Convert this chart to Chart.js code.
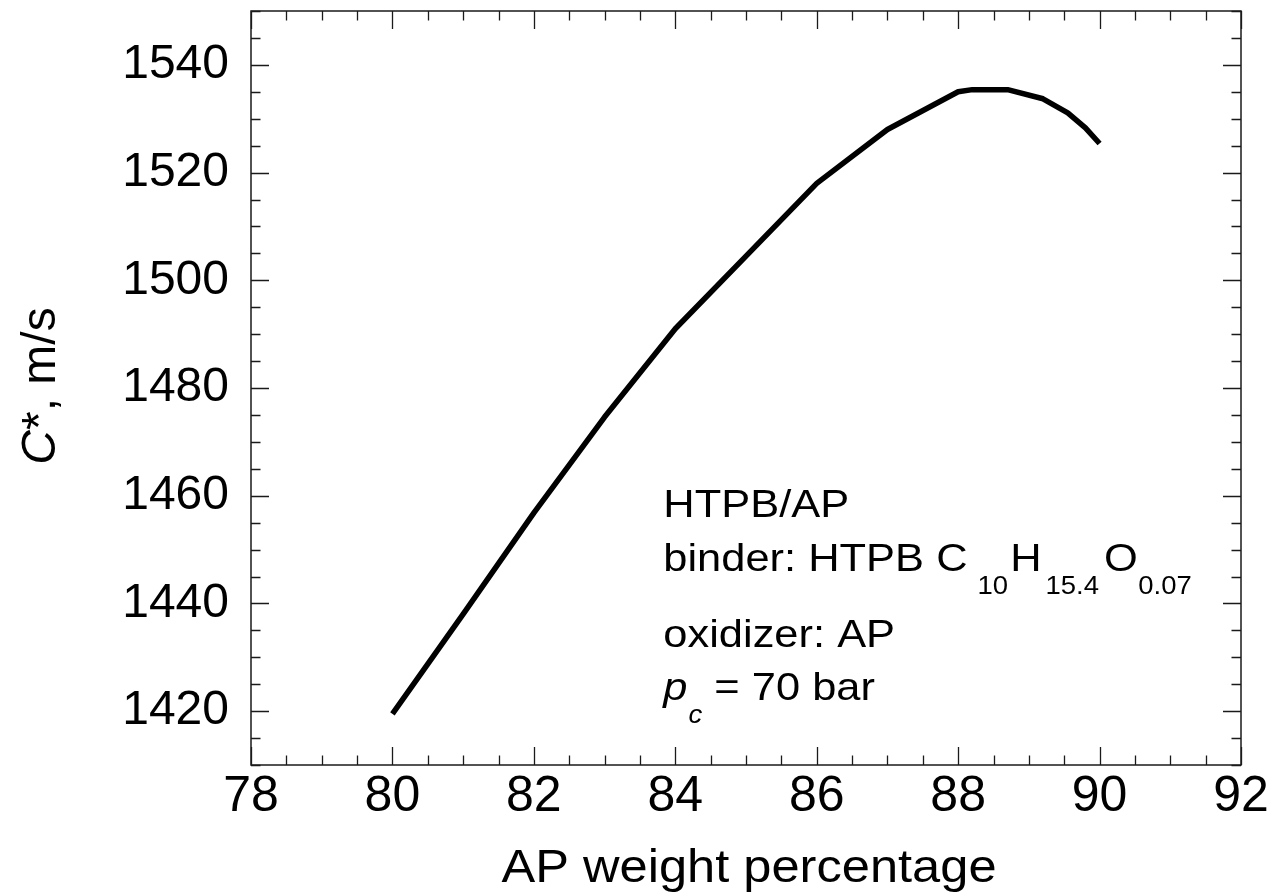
<!DOCTYPE html>
<html>
<head>
<meta charset="utf-8">
<script src="https://cdn.jsdelivr.net/npm/chart.js@4.4.0/dist/chart.umd.min.js"></script>
<style>
html, body { margin: 0; padding: 0; background: #fff; }
</style>
</head>
<body>
<canvas id="grafica" width="1273" height="896"></canvas>
<script>
// datos
const apPorcentaje = [80, 81, 82, 83, 84, 85, 86, 87, 88, 88.2, 88.7, 89.2, 89.55, 89.8, 90];
const cEstrella = [1419.5, 1438.0, 1456.8, 1474.6, 1491.0, 1504.5, 1518.0, 1528.0, 1535.0, 1535.4, 1535.4, 1533.7, 1531.1, 1528.3, 1525.4];
const ticksX = [78, 80, 82, 84, 86, 88, 90, 92];
const ticksY = [1420, 1440, 1460, 1480, 1500, 1520, 1540];

const FUENTE = '"Liberation Sans", Arial, sans-serif';
const ESTIRAR = 1.1; // el texto original esta algo ensanchado

function dibujarRenglon(ctx, x0, base, partes, estirar) {
    ctx.save();
    ctx.translate(x0, base);
    ctx.scale(estirar || 1, 1);
    let cx = 0;
    partes.forEach(p => {
        ctx.font = p.font;
        cx += p.gap || 0;
        ctx.fillText(p.t, cx, p.dy || 0);
        cx += ctx.measureText(p.t).width;
    });
    ctx.restore();
}

const marcoYTextos = {
    id: 'marcoYTextos',
    afterDraw(chart) {
        const { ctx, chartArea: a, scales: { x, y } } = chart;
        ctx.save();
        ctx.strokeStyle = '#1a1a1a';
        ctx.lineWidth = 1.5;
        ctx.strokeRect(a.left, a.top, a.right - a.left, a.bottom - a.top);

        // marcas hacia dentro en los cuatro lados
        ctx.lineWidth = 1.3;
        ctx.beginPath();
        x.ticks.forEach(t => {
            const px = Math.round(x.getPixelForValue(t.value)) + 0.5;
            const largo = ticksX.includes(t.value) ? 18 : 9.5;
            ctx.moveTo(px, a.bottom); ctx.lineTo(px, a.bottom - largo);
            ctx.moveTo(px, a.top); ctx.lineTo(px, a.top + largo);
        });
        y.ticks.forEach(t => {
            const py = Math.round(y.getPixelForValue(t.value)) + 0.5;
            const largo = ticksY.includes(t.value) ? 18 : 9.5;
            ctx.moveTo(a.left, py); ctx.lineTo(a.left + largo, py);
            ctx.moveTo(a.right, py); ctx.lineTo(a.right - largo, py);
        });
        ctx.stroke();

        ctx.fillStyle = '#000';
        ctx.textBaseline = 'alphabetic';
        ctx.textAlign = 'left';

        // titulo eje x
        const fTitulo = '46px ' + FUENTE;
        ctx.font = fTitulo;
        const tituloX = 'AP weight percentage';
        const wx = ctx.measureText(tituloX).width * ESTIRAR;
        dibujarRenglon(ctx, (a.left + a.right) / 2 + 3 - wx / 2, 882, [{ t: tituloX, font: fTitulo }], ESTIRAR);

        // titulo eje y, C en cursiva
        ctx.save();
        ctx.translate(55, (a.top + a.bottom) / 2 - 2);
        ctx.rotate(-Math.PI / 2);
        ctx.font = 'italic 48px ' + FUENTE;
        const w1 = ctx.measureText('C').width;
        ctx.font = '48px ' + FUENTE;
        const w2 = ctx.measureText('*, m/s').width;
        dibujarRenglon(ctx, -(w1 + w2) / 2, 0, [
            { t: 'C', font: 'italic 48px ' + FUENTE },
            { t: '*, m/s', font: '48px ' + FUENTE }
        ]);
        ctx.restore();

        // anotacion
        const grande = '39.5px ' + FUENTE;
        const chica = '25px ' + FUENTE;
        const x0 = x.getPixelForValue(83.83);
        dibujarRenglon(ctx, x0, y.getPixelForValue(1456.1), [{ t: 'HTPB/AP', font: grande }], ESTIRAR);
        dibujarRenglon(ctx, x0, y.getPixelForValue(1446.1), [
            { t: 'binder: HTPB C', font: grande },
            { t: '10', font: chica, dy: 23, gap: 9 },
            { t: 'H', font: grande, gap: 2 },
            { t: '15.4', font: chica, dy: 23, gap: 3.5 },
            { t: 'O', font: grande, gap: 4.5 },
            { t: '0.07', font: chica, dy: 23, gap: 0.5 }
        ], ESTIRAR);
        dibujarRenglon(ctx, x0, y.getPixelForValue(1431.9), [{ t: 'oxidizer: AP', font: grande }], ESTIRAR);
        dibujarRenglon(ctx, x0, y.getPixelForValue(1422.0), [
            { t: 'p', font: 'italic ' + grande },
            { t: 'c', font: 'italic ' + chica, dy: 23, gap: 1 },
            { t: ' = 70 bar', font: grande }
        ], ESTIRAR);
        ctx.restore();
    }
};

const ctx = document.getElementById('grafica').getContext('2d');
window.myChart = new Chart(ctx, {
    type: 'line',
    data: {
        datasets: [{
            data: apPorcentaje.map((v, i) => ({ x: v, y: cEstrella[i] })),
            borderColor: '#000',
            borderWidth: 5.5,
            borderCapStyle: 'butt',
            borderJoinStyle: 'round',
            pointRadius: 0,
            tension: 0,
            fill: false
        }]
    },
    options: {
        responsive: false,
        animation: false,
        layout: { padding: { top: 11, right: 32, left: 0, bottom: 0 } },
        plugins: { legend: { display: false }, tooltip: { enabled: false } },
        scales: {
            x: {
                type: 'linear',
                min: 78,
                max: 92,
                grid: { display: false, drawTicks: false },
                border: { display: false },
                ticks: {
                    stepSize: 0.5,
                    autoSkip: false,
                    maxRotation: 0,
                    padding: 2,
                    color: '#000',
                    font: { family: FUENTE, size: 50 },
                    callback: v => ticksX.includes(v) ? String(v) : ''
                },
                afterFit: s => { s.height = 131; s.paddingLeft = 0; s.paddingRight = 0; }
            },
            y: {
                type: 'linear',
                min: 1410,
                max: 1550,
                grid: { display: false, drawTicks: false },
                border: { display: false },
                ticks: {
                    stepSize: 5,
                    autoSkip: false,
                    padding: 22,
                    color: '#000',
                    font: { family: FUENTE, size: 48 },
                    callback: v => ticksY.includes(v) ? String(v) : ''
                },
                afterFit: s => { s.width = 251; s.paddingTop = 0; s.paddingBottom = 0; }
            }
        }
    },
    plugins: [marcoYTextos]
});
</script>
</body>
</html>
